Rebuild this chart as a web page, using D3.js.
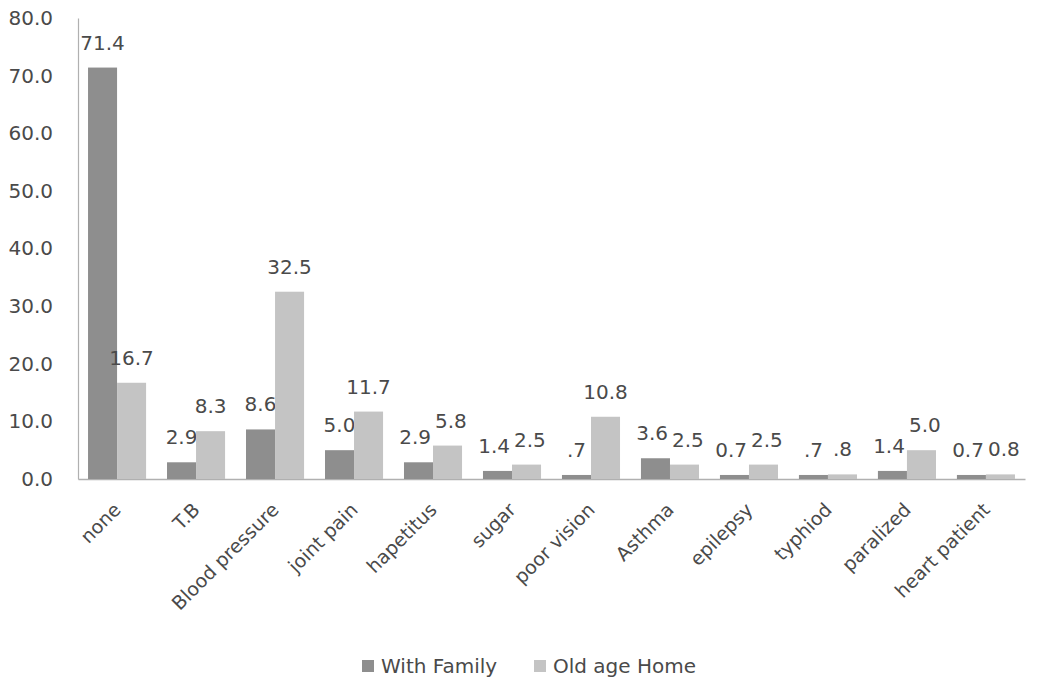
<!DOCTYPE html>
<html>
<head>
<meta charset="utf-8">
<script src="https://cdn.jsdelivr.net/npm/d3@7"></script>
<style>
  html, body { margin: 0; padding: 0; background: #ffffff; }
  svg { display: block; font-family: "DejaVu Sans", sans-serif; }
</style>
</head>
<body>
<svg id="chart" width="1048" height="680"></svg>
<script>
const categories = ["none", "T.B", "Blood pressure", "joint pain", "hapetitus", "sugar", "poor vision", "Asthma", "epilepsy", "typhiod", "paralized", "heart patient"];
const withFamily = [71.4, 2.9, 8.6, 5.0, 2.9, 1.4, 0.7, 3.6, 0.7, 0.7, 1.4, 0.7];
const oldAgeHome = [16.7, 8.3, 32.5, 11.7, 5.8, 2.5, 10.8, 2.5, 2.5, 0.8, 5.0, 0.8];
const withFamilyLabels = ["71.4", "2.9", "8.6", "5.0", "2.9", "1.4", ".7", "3.6", "0.7", ".7", "1.4", "0.7"];
const oldAgeHomeLabels = ["16.7", "8.3", "32.5", "11.7", "5.8", "2.5", "10.8", "2.5", "2.5", ".8", "5.0", "0.8"];
const seriesNames = ["With Family", "Old age Home"];
const yTicks = [0, 10, 20, 30, 40, 50, 60, 70, 80];

const svg = d3.select("#chart");
const plotLeft = 78, plotRight = 1025, plotTop = 18, plotBottom = 479;
const textColor = "#4a4a4a";
const colors = ["#8e8e8e", "#c4c4c4"];
const fontFamily = '"DejaVu Sans", sans-serif';

const x = d3.scaleBand().domain(categories).range([plotLeft, plotRight]).paddingInner(0.265).paddingOuter(0.127);
const xs = d3.scaleBand().domain([0, 1]).range([0, x.bandwidth()]);
const y = d3.scaleLinear().domain([0, 80]).range([plotBottom, plotTop]);

// y axis
const yAxis = svg.append("g").attr("transform", `translate(${plotLeft},0)`)
  .call(d3.axisLeft(y).tickValues(yTicks).tickFormat(d3.format(".1f")).tickSize(0).tickPadding(25));
yAxis.select(".domain").attr("stroke", "#b0b0b0").attr("stroke-width", 1.2);
yAxis.selectAll("text").attr("font-size", 20).attr("fill", textColor)
  .attr("font-family", fontFamily);

// x axis
const xAxis = svg.append("g").attr("transform", `translate(0,${plotBottom})`)
  .call(d3.axisBottom(x).tickSize(0).tickPadding(0));
xAxis.select(".domain").attr("stroke", "#b0b0b0").attr("stroke-width", 1.6);
xAxis.selectAll("text")
  .attr("font-size", 19).attr("fill", textColor)
  .attr("font-family", fontFamily)
  .attr("text-anchor", "end")
  .attr("dy", null).attr("y", 0)
  .attr("transform", "translate(5,32) rotate(-45)");

const data = [withFamily, oldAgeHome];
const labels = [withFamilyLabels, oldAgeHomeLabels];
const labelNodes = [[], []];

data.forEach((vals, s) => {
  const g = svg.append("g");
  g.selectAll("rect").data(vals).join("rect")
    .attr("x", (d, i) => x(categories[i]) + xs(s))
    .attr("y", d => y(d))
    .attr("width", xs.bandwidth())
    .attr("height", d => y(0) - y(d))
    .attr("fill", colors[s]);
  g.selectAll("text").data(vals).join("text")
    .attr("x", (d, i) => x(categories[i]) + xs(s) + xs.bandwidth() / 2)
    .attr("y", d => y(d) - 18)
    .attr("text-anchor", "middle")
    .attr("font-size", 20)
    .attr("font-family", fontFamily)
    .attr("fill", textColor)
    .text((d, i) => labels[s][i])
    .each(function() { labelNodes[s].push(this); });
});

// simple collision avoidance between the two labels of one category
categories.forEach((c, i) => {
  const a = labelNodes[0][i], b = labelNodes[1][i];
  const ba = a.getBBox(), bb = b.getBBox();
  const vOverlap = Math.min(ba.y + ba.height, bb.y + bb.height) - Math.max(ba.y, bb.y);
  const hOverlap = (ba.x + ba.width + 4) - bb.x;
  if (vOverlap > 0 && hOverlap > 0) {
    d3.select(a).attr("x", +a.getAttribute("x") - hOverlap / 2);
    d3.select(b).attr("x", +b.getAttribute("x") + hOverlap / 2);
  }
});

// legend
const legendX = [362, 534];
const legend = svg.append("g");
seriesNames.forEach((name, s) => {
  legend.append("rect").attr("x", legendX[s]).attr("y", 660).attr("width", 12).attr("height", 12).attr("fill", colors[s]);
  legend.append("text").attr("x", legendX[s] + 19).attr("y", 673)
    .attr("font-size", 20).attr("font-family", fontFamily).attr("fill", textColor).text(name);
});
</script>
</body>
</html>
